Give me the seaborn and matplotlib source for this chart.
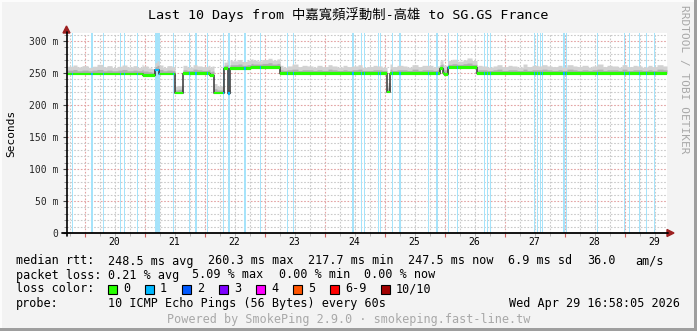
import numpy as np
import matplotlib
matplotlib.use("Agg")
import matplotlib.pyplot as plt
import seaborn as sns
from matplotlib.patches import Rectangle, Polygon
from matplotlib.lines import Line2D
from matplotlib.transforms import blended_transform_factory

# ---------------- data ----------------
t_start, t_end = 19.707, 29.707          # days (Apr 19 16:58 -> Apr 29 16:58)
y_max = 312.5                             # ms

# median rtt as step function (breakpoint day, ms)
median_t = [19.707, 20.962, 21.167, 21.228, 21.500, 21.638, 22.083, 22.145,
            22.312, 22.378, 22.422, 22.767, 23.250, 25.033, 25.088, 25.922,
            25.960, 25.988, 26.045, 26.528]
median_v = [248.5, 246.0, 255.0, 248.5, 218.5, 249.0, 246.0, 218.5,
            257.0, 218.0, 257.0, 259.0, 249.0, 220.0, 249.0, 257.0,
            250.0, 248.0, 258.5, 249.0]

# smoke spread above the median, 2-hour bins (ms)
smoke_light = [
    12, 14, 11, 13, 10, 12, 15, 11, 13, 10, 12, 14,
    11, 13, 10, 15, 12, 11, 14, 10, 13, 11, 12, 13,
    10, 14, 12, 11, 13, 15, 11, 10, 13, 12, 14, 11,
    13, 11, 10, 12, 14, 11, 13, 10, 12, 15, 11, 13,
    12, 10, 13, 11, 14, 12, 10, 13, 11, 12, 14, 10,
    11, 13, 12, 10, 15, 11, 13, 12, 10, 14, 11, 13,
    13, 10, 12, 14, 11, 13, 10, 12, 15, 11, 13, 12,
    10, 12, 14, 11, 13, 12, 10, 15, 11, 13, 12, 14,
    12, 11, 13, 10, 14, 12, 11, 13, 10, 12, 15, 11,
    13, 12, 10, 14, 11, 13, 12, 10, 13, 11, 14, 12]
smoke_dark = [
    6, 7, 5, 6, 5, 6, 7, 5, 6, 5, 6, 7,
    5, 6, 5, 7, 6, 5, 7, 5, 6, 5, 6, 6,
    5, 7, 6, 5, 6, 7, 5, 5, 6, 6, 7, 5,
    6, 5, 5, 6, 7, 5, 6, 5, 6, 7, 5, 6,
    6, 5, 6, 5, 7, 6, 5, 6, 5, 6, 7, 5,
    5, 6, 6, 5, 7, 5, 6, 6, 5, 7, 5, 6,
    6, 5, 6, 7, 5, 6, 5, 6, 7, 5, 6, 6,
    5, 6, 7, 5, 6, 6, 5, 7, 5, 6, 6, 7,
    6, 5, 6, 5, 7, 6, 5, 6, 5, 6, 7, 5,
    6, 6, 5, 7, 5, 6, 6, 5, 6, 5, 7, 6]

# packet loss (1/10) intervals: start day, length in 24-min steps
loss_t = [19.797, 20.100, 20.313, 20.597, 20.663, 20.880, 21.167, 21.470,
          21.737, 21.842, 22.047, 22.303, 22.387, 22.413, 22.650, 22.920,
          23.380, 23.480, 24.453, 24.480, 24.603, 24.663, 24.897, 24.925,
          25.120, 25.242, 25.720, 25.858, 26.053, 26.208, 26.663, 26.713,
          26.758, 27.497, 27.547, 27.587, 27.630, 27.975, 28.030, 28.547,
          28.997, 29.075, 29.247, 29.363, 29.492]
loss_steps = [1, 2, 1, 1, 1, 1, 5, 1,
              1, 2, 1, 1, 1, 1, 2, 1,
              1, 1, 1, 1, 1, 1, 1, 1,
              1, 2, 1, 2, 1, 1, 1, 1,
              1, 1, 1, 1, 1, 2, 1, 1,
              1, 1, 1, 1, 1]

day_labels = ['20', '21', '22', '23', '24', '25', '26', '27', '28', '29']
y_ticks = [0, 50, 100, 150, 200, 250, 300]
y_tick_labels = ['0', '50 m', '100 m', '150 m', '200 m', '250 m', '300 m']

loss_names = ['0', '1', '2', '3', '4', '5', '6-9', '10/10']
loss_colors = ['#26ff00', '#00b8ff', '#0059ff', '#7e00ff', '#ff00ff',
               '#ff5500', '#ff0000', '#a10000']

title = 'Last 10 Days from 中嘉寬頻浮動制-高雄 to SG.GS France'

# ---------------- figure ----------------
sns.set_style('white')
plt.rcParams['font.family'] = ['DejaVu Sans Mono', 'Noto Sans CJK TC']

W, H = 697, 331
def fx(p): return p / W
def fy(p): return 1 - p / H

fig = plt.figure(figsize=(W / 100, H / 100), dpi=100, facecolor='#f3f3f3')
ax = fig.add_axes([fx(67), fy(233), 600 / W, 200 / H])
ax.set_facecolor('white')
ax.set_xlim(t_start, t_end)
ax.set_ylim(0, y_max)
for s in ax.spines.values():
    s.set_visible(False)

# grid
grey = '#cacaca'
red = '#e3a3a3'
for k in range(int(np.ceil(t_start * 4)), int(np.floor(t_end * 4)) + 1):
    d = k / 4
    if abs(d - round(d)) < 1e-9:
        ax.axvline(d, color=red, lw=0.8, ls=(0, (1.5, 1.5)), zorder=0.5)
    else:
        ax.axvline(d, color=grey, lw=0.8, ls=(0, (1.5, 1.5)), zorder=0.5)
for v in range(10, int(y_max) + 1, 10):
    c = red if v % 50 == 0 else grey
    ax.axhline(v, color=c, lw=0.8, ls=(0, (1.5, 1.5)), zorder=0.5)

# loss bars
ax.bar(loss_t, y_max, width=np.array(loss_steps) / 60.0, align='edge',
       color='#a6e3fa', linewidth=0, zorder=1)

# series on fine grid (one step = 24 min)
tt = t_start + np.arange(600) / 60.0
idx = np.searchsorted(median_t, tt + 1e-9, side='right') - 1
med = np.array(median_v)[idx]
b = np.clip(((tt - t_start) * 12).astype(int), 0, 119)
light = med + np.array(smoke_light)[b]
dark = med + np.array(smoke_dark)[b]
te = np.append(tt, t_end)
mede = np.append(med, med[-1])
lighte = np.append(light, light[-1])
darke = np.append(dark, dark[-1])

ax.fill_between(te, mede, lighte, step='post', color='#d2d2d2', lw=0, zorder=2)
ax.fill_between(te, mede, darke, step='post', color='#b0b0b0', lw=0, zorder=2.1)

sns.lineplot(x=te, y=mede, drawstyle='steps-post', color='#202020', lw=1.0,
             ax=ax, zorder=3)

# loss mask -> median band colour
mask = np.zeros(len(tt), dtype=bool)
for lt, n in zip(loss_t, loss_steps):
    c = tt + 1 / 120.0
    mask |= (c >= lt) & (c <= lt + n / 60.0)
band_cols = np.where(mask, loss_colors[1], loss_colors[0])
ax.bar(tt, 4.0, bottom=med - 2.0, width=1 / 60.0, align='edge',
       color=band_cols, edgecolor=band_cols, linewidth=0.1, zorder=4)

# ticks
ax.set_yticks(y_ticks)
ax.set_yticklabels(y_tick_labels)
ax.set_yticks(range(10, int(y_max) + 1, 10), minor=True)
ax.tick_params(axis='y', which='major', length=3, width=0.8, color='#444444',
               pad=3, labelsize=7, left=True, direction='out')
ax.tick_params(axis='y', which='minor', length=2, width=0.6, color='#888888',
               left=True, direction='out')
ax.set_xticks(range(20, 30))
ax.set_xticklabels([])
ax.set_xticks([k / 4 for k in range(int(np.ceil(t_start * 4)), int(np.floor(t_end * 4)) + 1)],
              minor=True)
ax.tick_params(axis='x', which='major', length=3, width=0.8, color='#d06060',
               bottom=True, direction='out')
ax.tick_params(axis='x', which='minor', length=2, width=0.6, color='#aaaaaa',
               bottom=True, direction='out')
trans = blended_transform_factory(ax.transData, fig.transFigure)
for lab in day_labels:
    ax.text(int(lab) + 0.5, fy(242), lab, transform=trans, ha='center',
            va='center', fontsize=7, color='black')

# axis lines with arrows
fig.add_artist(Line2D([fx(62), fx(668)], [fy(233), fy(233)], color='black', lw=1.3))
fig.add_artist(Line2D([fx(66.5), fx(66.5)], [fy(236), fy(32)], color='black', lw=1.2))
fig.add_artist(Polygon([[fx(667), fy(229.5)], [fx(674), fy(233)], [fx(667), fy(236.5)]],
                       closed=True, color='#9c1f1f'))
fig.add_artist(Polygon([[fx(63), fy(33)], [fx(66.5), fy(26)], [fx(70), fy(33)]],
                       closed=True, color='#9c1f1f'))

# titles
fig.text(fx(348), fy(15), title, ha='center', va='center', fontsize=9.6,
         color='black')
fig.text(fx(11), fy(133), 'Seconds', rotation=90, ha='center', va='center',
         fontsize=8, color='black')
fig.text(fx(684), fy(5), 'RRDTOOL / TOBI OETIKER', rotation=270, ha='center',
         va='top', fontsize=8, color='#a8a8a8')

# legend block
fs = 8.5
def t(x, y, s, **kw):
    fig.text(fx(x), fy(y), s, ha=kw.pop('ha', 'left'), va='center', fontsize=fs,
             color=kw.pop('color', 'black'), **kw)

t(16, 261, 'median rtt:')
for x, s in zip([107.5, 207.5, 307.5, 408, 507.5, 586.7, 635.6],
                ['248.5 ms avg', '260.3 ms max', '217.7 ms min', '247.5 ms now',
                 '6.9 ms sd', '36.0', 'am/s']):
    t(x, 261, s)
t(16, 275, 'packet loss:')
for x, s in zip([107.5, 192, 279, 364.4],
                ['0.21 % avg', '5.09 % max', '0.00 % min', '0.00 % now']):
    t(x, 275, s)
t(16, 289, 'loss color:')
box_x = [108, 145, 182, 219, 256, 293, 330, 381]
for bx, name, col in zip(box_x, loss_names, loss_colors):
    fig.add_artist(Rectangle((fx(bx), fy(293.5)), 8.5 / W, 8.5 / H,
                             facecolor=col, edgecolor='black', lw=0.8))
    t(bx + 15, 289, name)
t(16, 303, 'probe:')
t(107.5, 303, '10 ICMP Echo Pings (56 Bytes) every 60s')
t(680, 303, 'Wed Apr 29 16:58:05 2026', ha='right')
t(348.5, 319, 'Powered by SmokePing 2.9.0 · smokeping.fast-line.tw', ha='center',
  color='#a8a8a8')

# frame
fig.add_artist(Rectangle((0, 0), fx(2), 1, color='#fcfcfc', lw=0))
fig.add_artist(Rectangle((0, fy(2)), 1, 2 / H, color='#fcfcfc', lw=0))
fig.add_artist(Rectangle((fx(694), 0), 3 / W, 1, color='#9e9e9e', lw=0))
fig.add_artist(Rectangle((0, 0), 1, 3 / H, color='#9e9e9e', lw=0))

fig.savefig('out.png', dpi=100, facecolor=fig.get_facecolor())
